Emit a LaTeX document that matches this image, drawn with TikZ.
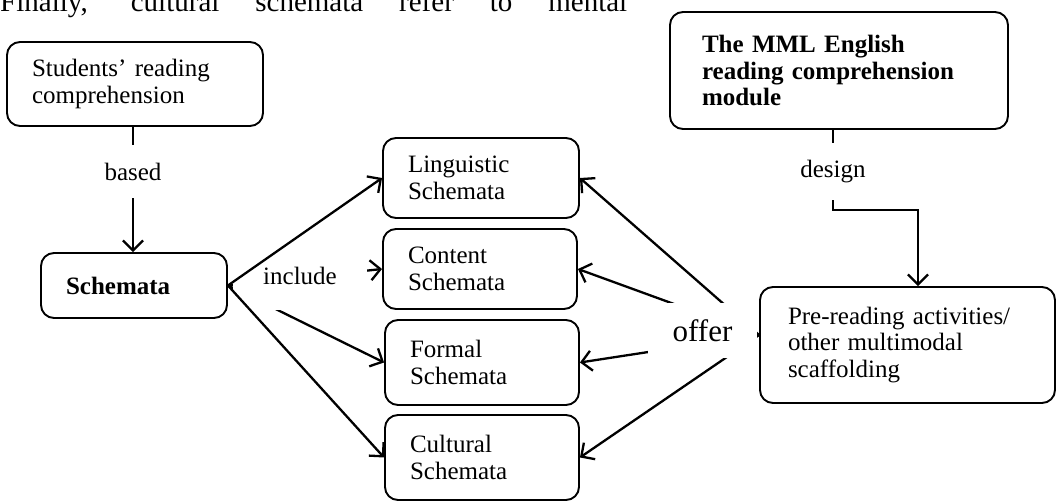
\documentclass[tikz,border=0pt]{standalone}
\usepackage{fontspec}
\setmainfont{Liberation Serif}
\usetikzlibrary{arrows.meta}
\tikzset{
  schbox/.style={draw, line width=1.9pt, rounded corners=13pt, fill=white, align=left, inner xsep=25pt, inner ysep=0pt},
  conn/.style={line width=2.3pt},
  conarrow/.style={conn, -{Straight Barb[length=10pt,width=20pt]}},
  gaplabel/.style={inner sep=0pt, align=center}
}
\begin{document}
\begin{tikzpicture}[x=1pt, y=-1pt, font=\fontsize{25}{26.5}\selectfont]
    % page frame
    \clip (0,0) rectangle (1059,502);
    \node [anchor=base west, inner sep=0pt, font=\fontsize{29}{31}\selectfont] (topline) at (0,12) {\makebox[627pt][s]{Finally, cultural schemata refer to mental}};
    % set boxes
    \node [schbox, text width=206pt, minimum height=84pt] (stud) at (135,84) {Students’ reading\\comprehension};
    \node [schbox, text width=136pt, minimum height=65pt] (schem) at (134,285.5) {\bfseries Schemata};
    \node [schbox, text width=146pt, minimum height=80pt] (ling) at (481,178) {Linguistic\\Schemata};
    \node [schbox, text width=144pt, minimum height=80pt] (cont) at (480,269) {Content\\Schemata};
    \node [schbox, text width=144pt, minimum height=85pt] (form) at (482,362.5) {Formal\\Schemata};
    \node [schbox, text width=144pt, minimum height=85pt] (cult) at (482,457.5) {Cultural\\Schemata};
    \node [schbox, inner xsep=32pt, text width=274pt, minimum height=117pt] (mml) at (839,70.5) {\bfseries The MML English\\\bfseries reading comprehension\\\bfseries module};
    \node [schbox, inner xsep=28pt, text width=239pt, minimum height=116pt] (pre) at (907.5,345) {Pre-reading activities/\\other multimodal\\scaffolding};
    % set coordinates
    \coordinate (bend) at (918,210);
    \coordinate (offsrc) at ([yshift=10pt]pre.west);
    % vertical links
    \node [gaplabel, minimum height=53pt] (based) at (133,171.5) {based};
    \draw [conn] (stud.south -| based) -- (based);
    \draw [conarrow] (based) -- (schem.north -| based);
    \node [gaplabel, minimum height=57pt] (design) at (833,171.5) {design};
    \draw [conn] (mml.south -| design) -- (design);
    \draw [conarrow] (design.south) |- (bend) -- (bend |- pre.north);
    % include arrows
    \draw [conarrow] (schem.east) -- (cont.west);
    \draw [conarrow] (schem.east) -- (form.west);
    \node [gaplabel, fill=white, anchor=base, text height=23pt, text depth=21pt, inner ysep=4pt, minimum width=134pt] (include) at (300,285) {include};
    \draw [conarrow] (schem.east) -- (ling.west);
    \draw [conarrow] (schem.east) -- (cult.west);
    % offer arrows
    \draw [conarrow] (offsrc) -- (ling.east);
    \draw [conarrow] (offsrc) -- (cont.east);
    \draw [conarrow] (offsrc) -- (form.east);
    \draw [conarrow] (offsrc) -- (cult.east);
    \node [gaplabel, fill=white, font=\fontsize{31}{33}\selectfont, minimum width=109pt, minimum height=55pt] (offer) at (702.5,330.5) {offer};
\end{tikzpicture}
\end{document}
